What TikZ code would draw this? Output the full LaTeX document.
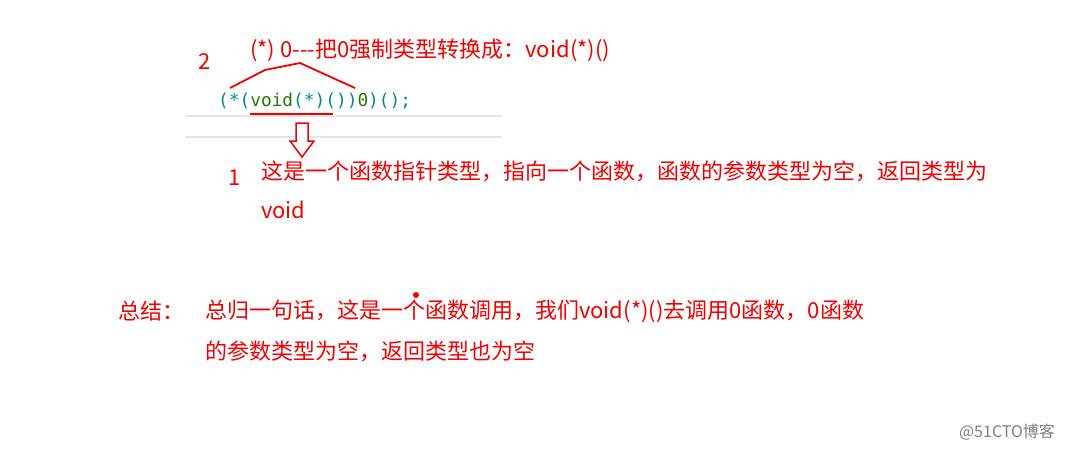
\documentclass[tikz,border=0pt]{standalone}
\usepackage{fontspec}
\newfontfamily\cjk{Noto Sans CJK SC}
\newfontfamily\mono{DejaVu Sans Mono}
\begin{document}
\begin{tikzpicture}[x=1pt,y=-1pt,
  red/.style={text=red!95!black,font=\cjk\fontsize{22}{26}\selectfont,anchor=west,inner sep=0},
  ln/.style={draw=red!95!black,line width=1.8pt}]
\definecolor{teal2}{RGB}{0,140,140}
\definecolor{dg}{RGB}{40,120,0}
\useasboundingbox (0,0) rectangle (1065,450);
\fill[white] (0,0) rectangle (1065,450);
\draw[gray!20,line width=2pt] (185,116) -- (502,116) (185,137) -- (502,137);
\node[red] (two) at (198,62) {2};
\node[red] (title) at (250,50) {(*) 0---把0强制类型转换成：void(*)()};
\node[anchor=west,inner sep=0,font=\mono\fontsize{17.8}{20}\selectfont] (code) at (218,101)
 {\textcolor{teal2}{(*(}\textcolor{dg}{void}\textcolor{teal2}{(*)())}\textcolor{dg}{0}\textcolor{teal2}{)();}};
\coordinate (a1) at (230,88); \coordinate (a2) at (265,70); \coordinate (a3) at (300,63); \coordinate (a4) at (355,88);
\draw[ln] (a1) -- (a2) -- (a3) -- (a4);
\coordinate (u1) at (250,114); \coordinate (u2) at (333,114);
\draw[ln] (u1) -- (u2);
\draw[draw=red!95!black,line width=1.5pt,fill=white] (296,123) -- (308,123) -- (308,141) -- (314,141) -- (302,157) -- (290,141) -- (296,141) -- cycle;
\node[red] (one) at (228,178) {1};
\node[red] (d1) at (261,171) {这是一个函数指针类型，指向一个函数，函数的参数类型为空，返回类型为};
\node[red] (d2) at (261,210) {void};
\node[red] (sum) at (118,311) {总结：};
\node[red] (s1) at (205,311) {总归一句话，这是一个函数调用，我们void(*)()去调用0函数，0函数};
\node[red] (s2) at (205,351) {的参数类型为空，返回类型也为空};
\fill[red!95!black] (416,295) circle (3);
\node[anchor=center,text=gray,font=\cjk\fontsize{16}{18}\selectfont] (wm) at (1007,432) {@51CTO博客};
\end{tikzpicture}
\end{document}
